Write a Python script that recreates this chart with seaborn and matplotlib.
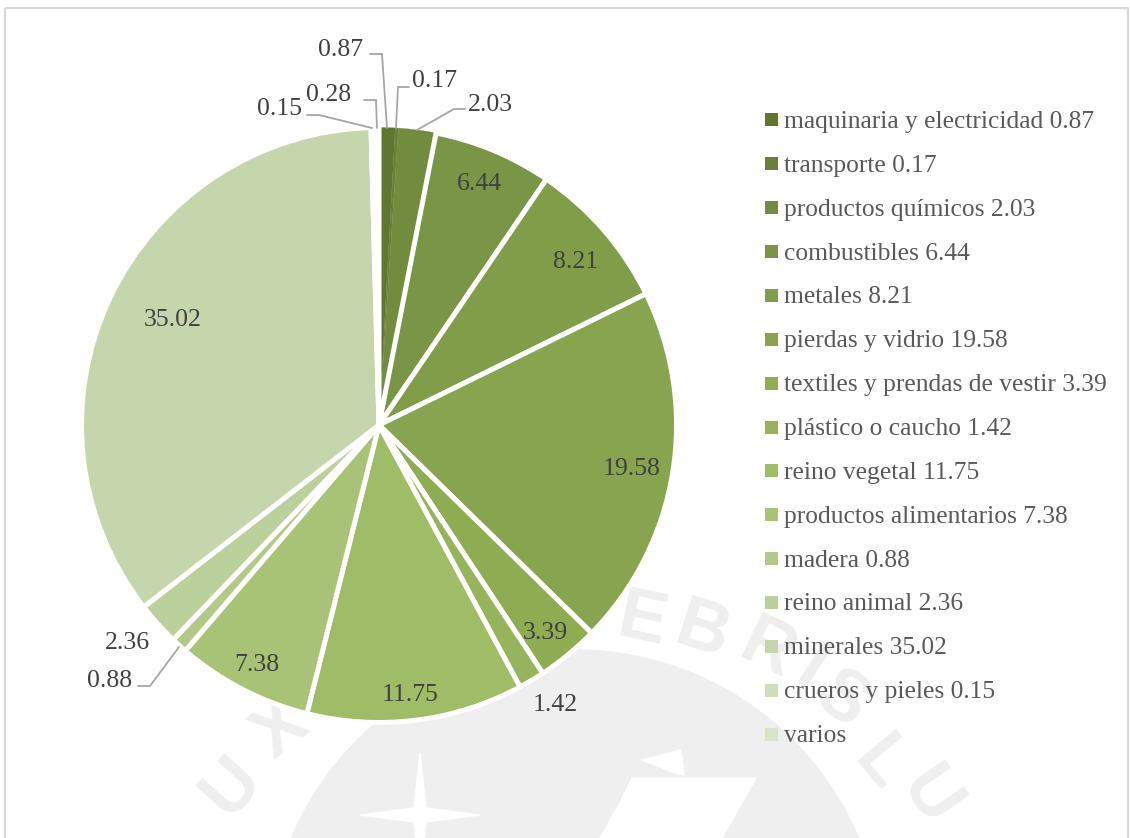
import numpy as np
import matplotlib
matplotlib.use("Agg")
import matplotlib.pyplot as plt
from matplotlib.patches import Circle, Rectangle, Polygon
import seaborn as sns

categorias = [
    "maquinaria y electricidad", "transporte", "productos químicos", "combustibles",
    "metales", "pierdas y vidrio", "textiles y prendas de vestir", "plástico o caucho",
    "reino vegetal", "productos alimentarios", "madera", "reino animal", "minerales",
    "crueros y pieles", "varios",
]
valores = [0.87, 0.17, 2.03, 6.44, 8.21, 19.58, 3.39, 1.42, 11.75, 7.38, 0.88, 2.36, 35.02, 0.15, 0.28]
# la leyenda original no muestra el valor de "varios"
leyenda_valores = ["0.87", "0.17", "2.03", "6.44", "8.21", "19.58", "3.39", "1.42",
                   "11.75", "7.38", "0.88", "2.36", "35.02", "0.15", ""]
colores_base = ["#5F7530", "#7A9445", "#8CA950", "#A2BF69", "#BED19F", "#D8E3CA"]
etiquetas_dentro = {"6.44": (479, 184), "8.21": (576, 262), "19.58": (632, 469), "3.39": (545, 633),
                    "11.75": (410, 695), "7.38": (257, 665), "35.02": (173, 320)}
etiquetas_fuera = {"0.87": (341, 50), "0.17": (435, 81), "2.03": (490, 105), "0.28": (329, 95),
                   "0.15": (279, 109), "1.42": (555, 705), "2.36": (127, 643), "0.88": (110, 681)}
lineas_guia = [
    [(370, 54), (382, 54), (387, 128)],
    [(409, 87), (398, 87), (396, 128)],
    [(465, 109), (454, 109), (417, 130)],
    [(364, 100), (376, 100), (377, 128)],
    [(307, 115), (319, 115), (372, 128)],
    [(138, 686), (150, 686), (179, 647)],
]

sns.set_theme(style="white")
plt.rcParams["font.family"] = ["Liberation Serif", "DejaVu Serif"]

ANCHO, ALTO = 1130, 838
fig = plt.figure(figsize=(ANCHO / 100, ALTO / 100), dpi=100)

fondo = fig.add_axes([0, 0, 1, 1])
fondo.set_xlim(0, ANCHO)
fondo.set_ylim(ALTO, 0)
fondo.axis("off")

# marca de agua del fondo
gris = "#efefef"
fondo.add_patch(Circle((575, 958), 308, color=gris, zorder=0))
fondo.add_patch(Polygon([(420, 753), (426, 808), (480, 815), (426, 822), (424, 838),
                         (416, 838), (414, 822), (360, 815), (414, 808)], color="white", zorder=1))
fondo.add_patch(Polygon([(632, 778), (756, 778), (722, 838), (600, 838), (618, 806)], color="white", zorder=1))
fondo.add_patch(Polygon([(642, 760), (681, 750), (684, 775), (672, 772)], color="white", zorder=1))
letras = [("E", 642, 621, -12), ("B", 702, 632, -18), ("R", 767, 650, -26), ("I", 810, 672, -33), ("S", 842, 700, -38),
          ("L", 880, 765, -50), ("U", 930, 797, -55), ("X", 281, 730, 38), ("U", 232, 787, 48)]
for letra, x, y, rot in letras:
    fondo.text(x, y, letra, fontsize=52, color=gris, rotation=rot, ha="center", va="center",
               family="Liberation Sans", weight="bold", zorder=0)

# marco del grafico
fondo.add_patch(Rectangle((5, 8), 1123, 840, fill=False, edgecolor="#d9d9d9", lw=1.6, zorder=1))

colores = sns.blend_palette(colores_base, n_colors=len(valores))

centro_x, centro_y, radio = 379, 425, 297.5
ax = fig.add_axes([(centro_x - radio) / ANCHO, (ALTO - centro_y - radio) / ALTO,
                   2 * radio / ANCHO, 2 * radio / ALTO])
ax.patch.set_alpha(0)
cunas, _ = ax.pie(valores, colors=colores, startangle=90, counterclock=False, radius=1,
                  wedgeprops={"edgecolor": "white", "linewidth": 3.6})
for cuna, color in zip(cunas[:3], colores[:3]):
    cuna.set_edgecolor(color)
    cuna.set_linewidth(0.2)
ax.set_xlim(-1, 1)
ax.set_ylim(-1, 1)

frente = fig.add_axes([0, 0, 1, 1])
frente.set_xlim(0, ANCHO)
frente.set_ylim(ALTO, 0)
frente.axis("off")
frente.patch.set_alpha(0)

for linea in lineas_guia:
    xs, ys = zip(*linea)
    frente.plot(xs, ys, color="#a6a6a6", lw=1.3, solid_joinstyle="miter")

for etiquetas in (etiquetas_dentro, etiquetas_fuera):
    for texto, (x, y) in etiquetas.items():
        frente.text(x, y, texto, fontsize=18.5, color="#404040", ha="center", va="center")

# leyenda a mano para respetar el paso de 44 px
y_ley = 120
paso = (734 - 120) / 14
for i, (cat, val, color) in enumerate(zip(categorias, leyenda_valores, colores)):
    y = y_ley + i * paso
    frente.add_patch(Rectangle((765, y - 6.5), 13, 13, color=color, lw=0))
    frente.text(784, y + 2, f"{cat} {val}".strip(), fontsize=18.35, color="#595959", ha="left", va="center")

fig.savefig("out.png", dpi=100)
plt.close(fig)
